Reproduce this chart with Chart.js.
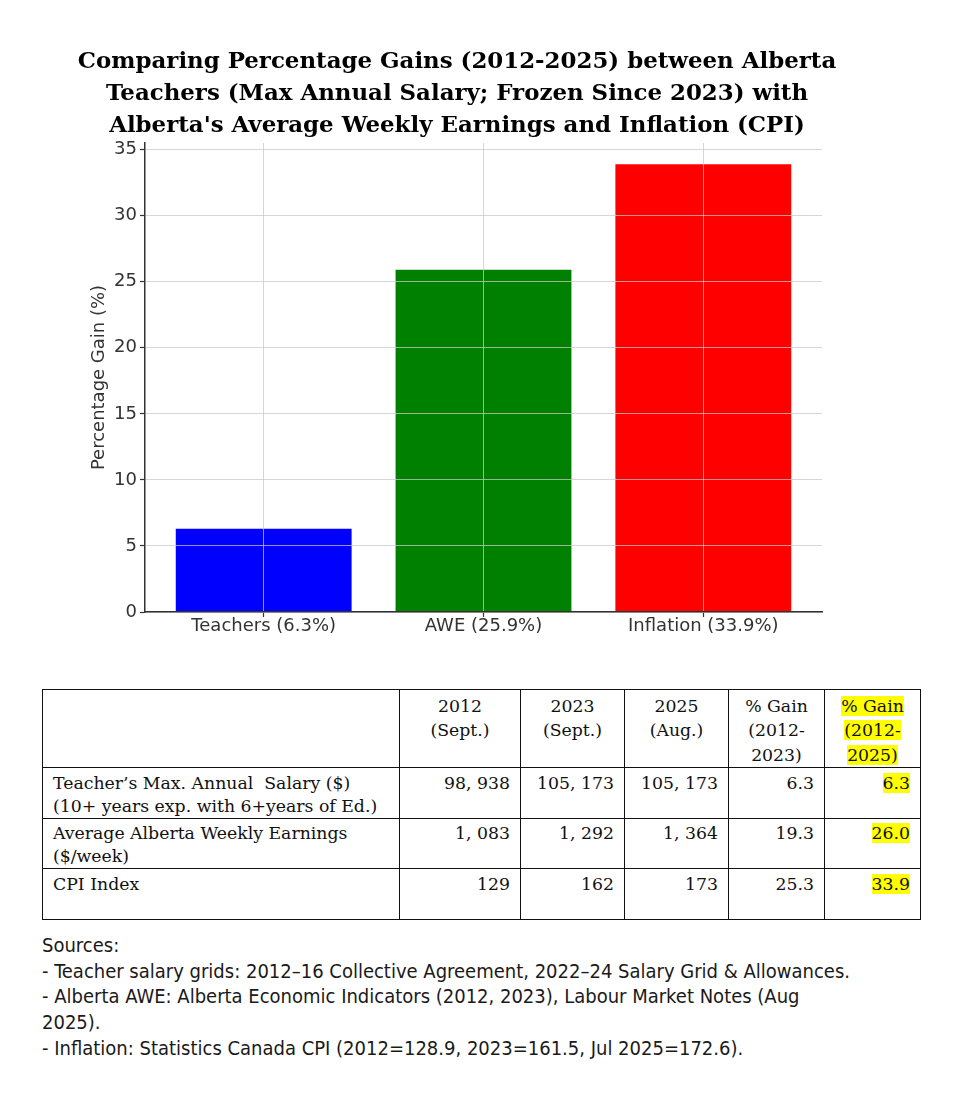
<!DOCTYPE html>
<html>
<head>
<meta charset="utf-8">
<script src="https://cdn.jsdelivr.net/npm/chart.js@4.4.1/dist/chart.umd.min.js"></script>
<style>
  body { margin: 0; background: #fff; }
  #wrap { position: absolute; left: 0; top: 0; width: 957px; height: 650px; }
  #title { position: absolute; left: 0; top: 44px; width: 914px; text-align: center; white-space: nowrap;
           font-family: "DejaVu Serif", serif; font-weight: bold; font-size: 22.9px; line-height: 32px; color: #000; }
  #tbl { position: absolute; left: 42px; top: 689px; width: 878px; border-collapse: collapse;
         font-family: "DejaVu Serif", serif; font-size: 17.3px; color: #111; table-layout: fixed; }
  #tbl td { border: 1.5px solid #111; vertical-align: top; padding: 3.5px 10px 0 10px; line-height: 23px; }
  #tbl tr.head td { text-align: center; padding-top: 3.5px; line-height: 24.5px; padding-left: 4px; padding-right: 4px; }
  #tbl td.num { text-align: right; }
  #tbl tr.body td { height: 46px; }
  .hl { background: #ffff00; }
  #src { position: absolute; left: 42px; top: 933px; font-family: "Liberation Sans Narrow", "DejaVu Sans Condensed", sans-serif;
         font-size: 20px; line-height: 25.7px; color: #1a1a1a; white-space: nowrap; }
</style>
</head>
<body>
<div id="wrap"><canvas id="gainChart"></canvas></div>
<div id="title"></div>
<table id="tbl"></table>
<div id="src"></div>
<script>
// chart data
var titleLines = ['Comparing Percentage Gains (2012-2025) between Alberta',
                  'Teachers (Max Annual Salary; Frozen Since 2023) with',
                  "Alberta's Average Weekly Earnings and Inflation (CPI)"];
var categories = ['Teachers (6.3%)', 'AWE (25.9%)', 'Inflation (33.9%)'];
var gains = [6.3, 25.9, 33.9];
var barColors = ['#0000ff', '#008000', '#ff0000'];
var yTicks = [0, 5, 10, 15, 20, 25, 30, 35];

// table data
var colHeads = ['', '2012<br>(Sept.)', '2023<br>(Sept.)', '2025<br>(Aug.)', '% Gain<br>(2012-<br>2023)', '% Gain<br>(2012-<br>2025)'];
var rowLabels = ['Teacher’s Max. Annual&nbsp; Salary ($)<br>(10+ years exp. with 6+years of Ed.)',
                 'Average Alberta Weekly Earnings<br>($/week)',
                 'CPI Index'];
var val2012 = ['98, 938', '1, 083', '129'];
var val2023 = ['105, 173', '1, 292', '162'];
var val2025 = ['105, 173', '1, 364', '173'];
var gain2023 = ['6.3', '19.3', '25.3'];
var gain2025 = ['6.3', '26.0', '33.9'];

var sources = ['Sources:',
  '- Teacher salary grids: 2012–16 Collective Agreement, 2022–24 Salary Grid &amp; Allowances.',
  '- Alberta AWE: Alberta Economic Indicators (2012, 2023), Labour Market Notes (Aug',
  '2025).',
  '- Inflation: Statistics Canada CPI (2012=128.9, 2023=161.5, Jul 2025=172.6).'];

document.getElementById('title').innerHTML = titleLines.join('<br>');

// build table
var widths = [357, 121, 104, 104, 96, 96];
var html = '<colgroup>' + widths.map(function(w){ return '<col style="width:' + w + 'px">'; }).join('') + '</colgroup>';
html += '<tr class="head">' + colHeads.map(function(h, i){
  if (i === 5) h = h.split('<br>').map(function(p){ return '<span class="hl">' + p + '</span>'; }).join('<br>');
  return '<td>' + h + '</td>';
}).join('') + '</tr>';
for (var r = 0; r < rowLabels.length; r++) {
  html += '<tr class="body"><td>' + rowLabels[r] + '</td>' +
    '<td class="num">' + val2012[r] + '</td>' +
    '<td class="num">' + val2023[r] + '</td>' +
    '<td class="num">' + val2025[r] + '</td>' +
    '<td class="num">' + gain2023[r] + '</td>' +
    '<td class="num"><span class="hl">' + gain2025[r] + '</span></td></tr>';
}
document.getElementById('tbl').innerHTML = html;
document.getElementById('src').innerHTML = sources.join('<br>');

function gridStyle() {
  return {
    color: 'rgba(200,200,200,0.75)',
    lineWidth: 1,
    borderDash: [3, 2],
    tickBorderDash: [],
    tickColor: '#333',
    tickLength: 5,
    tickWidth: 1.2,
    offset: false,
    z: 1
  };
}

var ctx = document.getElementById('gainChart').getContext('2d');
new Chart(ctx, {
  type: 'bar',
  data: {
    datasets: [{
      data: gains.map(function(v, i){ return { x: i, y: v }; }),
      backgroundColor: barColors,
      borderWidth: 0,
      barPercentage: 0.8,
      categoryPercentage: 1.0
    }]
  },
  options: {
    responsive: true,
    maintainAspectRatio: false,
    devicePixelRatio: 1,
    animation: false,
    layout: { padding: { left: 85, right: 135, top: 143, bottom: 15 } },
    plugins: {
      legend: { display: false },
      tooltip: { enabled: false },
      title: { display: false }
    },
    scales: {
      x: {
        type: 'linear',
        min: -0.54,
        max: 2.54,
        offset: false,
        afterBuildTicks: function(s){ s.ticks = categories.map(function(c, i){ return { value: i }; }); },
        ticks: {
          callback: function(v){ return categories[v]; },
          color: '#333',
          font: { family: '"DejaVu Sans", sans-serif', size: 18, lineHeight: 1.0 },
          padding: 0,
          maxRotation: 0
        },
        grid: gridStyle(),
        border: { display: true, color: '#333', width: 1.5, z: 2 }
      },
      y: {
        min: 0,
        max: 35.5,
        afterBuildTicks: function(s){ s.ticks = yTicks.map(function(v){ return { value: v }; }); },
        afterFit: function(s){ s.width = 60; },
        ticks: {
          color: '#333',
          font: { family: '"DejaVu Sans", sans-serif', size: 18 },
          padding: 3
        },
        grid: gridStyle(),
        border: { display: true, color: '#333', width: 1.5, z: 2 },
        title: {
          display: true,
          text: 'Percentage Gain (%)',
          color: '#333',
          font: { family: '"DejaVu Sans", sans-serif', size: 18 }
        }
      }
    }
  }
});
</script>
</body>
</html>
